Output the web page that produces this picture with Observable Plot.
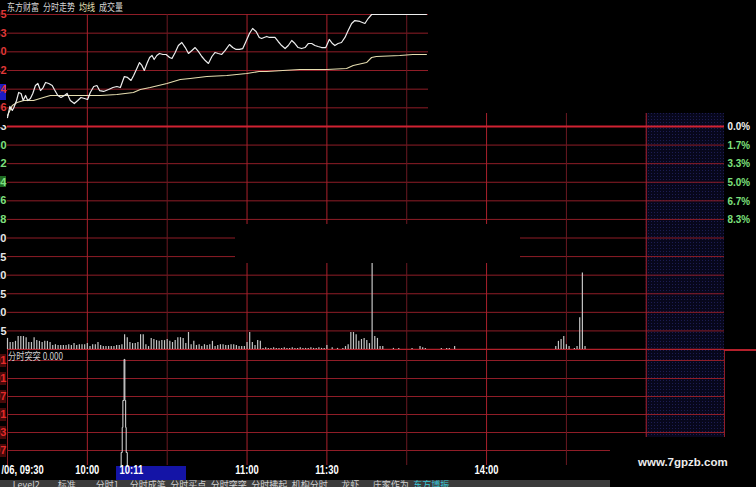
<!DOCTYPE html>
<html>
<head>
<meta charset="utf-8">
<script src="https://cdn.jsdelivr.net/npm/d3@7"></script>
<script src="https://cdn.jsdelivr.net/npm/@observablehq/plot@0.6"></script>
<style>
  html, body { margin:0; padding:0; background:#000; }
  #root { position:relative; width:756px; height:487px; background:#000; overflow:hidden; font-family:"Liberation Sans", Arial, sans-serif; }
  .abs { position:absolute; }
  .abs svg { display:block; max-width:none; }
  .cjk { font-family:"Noto Sans CJK SC", sans-serif; white-space:nowrap; }
</style>
</head>
<body>
<div id="root"></div>
<script>
// ================= DATA =================
const chartEndMinute = 269.4;          // time axis keeps blank space after the close
const closeMinute = 240;               // 15:00 (240 trading minutes after 09:30)
const majorGridMinutes = [30, 90, 120, 180, 240];
const minorGridMinutes = [60, 150, 210];
const insetMajorMinutes = [30, 90, 120];
const insetMinorMinutes = [60, 150];
const timeTickMinutes = [30, 90, 120, 180];
const timeTickLabels = ["10:00", "11:00", "11:30", "14:00"];
const firstTimeLabel = "/06, 09:30";
const cursorMinute = 41;
const cursorLabel = "10:11";

// main panel (percent grid)
const pctGrid = [0, 1.667, 3.333, 5, 6.667, 8.333, 10, 11.667, 13.333, 15, 16.667, 18.333, 20];
const pctRightTicks = [0, 1.667, 3.333, 5, 6.667, 8.333];
const pctLeftLabels = ["10.43", "10.30", "10.12", "9.94", "9.76", "9.58"];

// volume (per minute from 09:30)
const volumeTicks = [30, 25, 20, 15, 10, 5];
const volume = [
  3.0,1.9,1.9,2.2,3.5,3.5,3.5,3.2,1.9,1.9,
  3.2,2.4,2.2,1.9,2.2,2.2,1.9,1.1,1.3,1.1,
  1.1,1.1,1.1,1.3,1.1,1.6,1.1,1.3,1.3,1.3,
  1.6,0.8,1.3,1.3,1.9,1.1,0.8,0.8,0.8,0.8,
  0.8,1.1,1.1,1.3,4.0,3.2,1.9,1.6,1.6,1.9,
  4.0,4.0,1.3,0.8,3.0,2.7,2.4,2.2,2.4,2.4,
  2.7,2.2,1.9,2.4,3.2,3.2,3.0,1.6,4.6,1.3,
  2.2,1.1,1.3,0.8,1.3,1.1,1.3,2.2,0.8,1.1,
  1.3,1.3,1.1,1.1,1.3,1.3,1.1,0.8,0.8,0.8,
  1.9,4.6,1.9,1.1,2.4,2.2,
  0.3,0.5,0.3,0.3,0.5,0.3,0.3,0.3,0.5,0.3,0.3,0.5,0.3,0.3,0.5,0.3,0.3,0.3,0.5,0.3,0.3,0.5,0.3,0.3,
  1.1,0,0.5,0,0.3,0,0.3,0.8,1.3,4.6,
  4.6,4.0,2.2,2.7,3.0,2.4,1.6,26.1,3.5,3.0,
  0.8,0.8,0,0,0,0.3,0,0.3,0,0,
  0,0,0.3,0,0,0.8,0.5,0.3,0,0,
  0,0,0,0.3,0,0.3,0.3,0,0.8,0,
  0,0,0,0,0,0,0,0,0,0,
  0,0,0,0,0,0,0,0,0,0,
  0,0,0,0,0,0,0,0,0,0,
  0,0,0,0,0,0,0.8,2.2,2.7,3.5,
  1.3,0.8,0,0.3,0.8,8.6,20.7,0.8
];

// inset (price % change and average line)
const insetGrid = [1.667, 3.333, 5, 6.667, 8.333, 10];
const insetLabelValues = [10, 8.333, 6.667, 5, 3.333, 1.667];
const insetTickLabels = ["10.95", "10.83", "10.60", "10.42", "10.24", "10.06"];
const priceSeries = [
  [0,0.80],[0.4,1.25],[0.9,1.79],[1.8,1.43],[2.4,1.70],[3.4,2.32],[4.2,3.04],[5.1,2.95],[5.9,2.32],[6.8,2.77],
  [7.6,2.32],[8.6,2.50],[9.5,2.95],[10.5,3.66],[11.4,3.84],[12.4,3.21],[13.4,3.48],[14.3,3.93],[15.5,3.84],[16.8,3.66],
  [17.6,3.30],[18.9,2.77],[20.1,2.59],[21.4,2.77],[22.4,2.95],[23.6,2.32],[25.1,2.05],[26.4,2.32],[27.6,2.59],[28.9,2.50],
  [30.1,2.41],[31.1,3.04],[32.4,3.57],[33.6,3.66],[34.6,3.21],[36.1,3.13],[38.0,3.30],[39.6,3.48],[41.1,3.57],[42.4,3.48],
  [43.9,4.46],[45.1,4.38],[46.4,4.11],[47.4,4.55],[48.6,5.18],[49.6,5.71],[50.5,5.45],[51.4,5.00],[52.4,5.63],[53.4,6.16],
  [54.3,6.34],[55.1,5.98],[56.1,6.34],[57.1,6.52],[58.4,6.43],[59.6,6.43],[60.9,6.16],[61.8,6.07],[63.0,6.61],[64.2,7.23],
  [65.5,7.50],[66.8,7.05],[68.0,6.52],[69.3,6.79],[70.5,7.05],[71.7,6.70],[73.0,6.25],[74.3,5.89],[75.5,5.63],[76.8,6.25],
  [78.0,6.61],[79.2,6.52],[80.5,6.43],[81.8,6.79],[83.4,7.32],[84.6,7.05],[85.9,6.88],[87.1,6.88],[88.4,6.96],[89.6,7.59],
  [90.9,8.30],[92.1,8.75],[93.4,8.48],[94.6,7.95],[95.5,7.86],[96.4,7.95],[97.4,8.04],[98.4,7.95],[99.3,7.95],[100.5,7.95],
  [101.7,7.59],[103.0,7.23],[104.3,6.96],[105.5,7.23],[106.8,7.68],[108.0,7.41],[109.2,7.05],[110.5,6.96],[111.8,7.05],[113.0,7.41],
  [114.3,7.41],[115.5,7.23],[116.7,7.14],[118.0,7.05],[119.6,7.05],[120.9,7.77],[122.1,7.41],[123.0,7.23],[124.2,7.41],[125.5,7.50],
  [126.8,7.95],[128.0,8.57],[129.3,9.20],[130.5,9.46],[132.4,9.38],[134.3,9.20],[135.5,9.64],[136.8,10.00],[157.4,10.00]
];
const avgSeries = [
  [0,0.98],[1.8,1.88],[3.6,2.14],[6.1,2.32],[9.8,2.32],[13.5,2.59],[16.1,2.77],[22.4,2.77],[29.9,2.77],[34.9,2.77],
  [41.1,2.86],[47.3,3.04],[49.9,3.30],[53.6,3.48],[59.9,3.84],[64.9,4.20],[68.6,4.29],[74.9,4.46],[82.4,4.55],[89.9,4.73],
  [94.5,4.91],[97.4,4.91],[103.5,5.00],[109.9,5.09],[119.9,5.09],[127.4,5.18],[129.9,5.45],[134.9,5.71],[136.8,6.16],[138.6,6.25],
  [147.4,6.34],[152.3,6.43],[157.4,6.43]
];

// lower indicator panel (分时突突)
const lowerGrid = [1, 2, 3, 4, 5, 6];
const lowerTickLabels = ["0.97", "1.93", "3.01", "3.97", "5.01", "6.01"];
const spikeOutline = [
  [42.7,0.15],[42.7,0.89],[43.1,0.89],[43.1,2.28],[43.35,2.28],[43.35,3.78],[43.8,3.78],[43.8,6.06],
  [44.1,6.06],[44.1,3.78],[44.4,3.78],[44.4,2.28],[44.6,2.28],[44.6,0.89],[45.0,0.89],[45.0,0.15]
];

const insetTitleParts = ["东方财富", "分时走势", "均线", "成交量"];
const lowerTitle = "分时突突 0.000";
const toolbarTabs = ["Level2", "标准", "分时1", "分时成笔", "分时买点", "分时突突", "分时拂起", "机构分时", "龙虾", "庄家作为", "东方博振"];
const watermark = "www.7gpzb.com";

// ================= STYLE =================
const GRID = "#8f1d27", GRID_MAJOR = "#a9202c", GRID_MINOR = "#6a1922", ZERO = "#d02232", SEP = "#b3202b";
const HATCH = "#0b0b2c";
const GREEN = "#7ee07e";
const baseStyle = {background: "transparent", color: "#fff", fontFamily: "'Liberation Sans', Arial, sans-serif"};
const xOpt = {domain: [0, chartEndMinute], range: [7, 724], axis: null};
const lab = {fontSize: 11, fontWeight: "bold"};

const root = document.getElementById("root");
function layer(left, top, w, h, node, extra) {
  const d = document.createElement("div");
  d.className = "abs";
  Object.assign(d.style, {left: left + "px", top: top + "px", width: w + "px", height: h + "px"}, extra || {});
  if (node) d.appendChild(node);
  root.appendChild(d);
  return d;
}
function addDots(svg, id) {
  const ns = "http://www.w3.org/2000/svg";
  const defs = document.createElementNS(ns, "defs");
  defs.innerHTML = `<pattern id="${id}" width="3" height="3" patternUnits="userSpaceOnUse"><rect width="3" height="3" fill="#07071c"/><rect width="1" height="1" fill="#1c1c52"/></pattern>`;
  svg.insertBefore(defs, svg.firstChild);
  svg.querySelectorAll(`[fill="${HATCH}"]`).forEach(el => el.setAttribute("fill", `url(#${id})`));
}
// condense wide labels (skip right-aligned, edge-clipped left labels)
function condense(svg, factor) {
  svg.querySelectorAll("text").forEach(t => {
    if (t.closest('[text-anchor="end"]')) return;
    const w = t.getComputedTextLength();
    if (w > 0) { t.setAttribute("textLength", (w * factor).toFixed(1)); t.setAttribute("lengthAdjust", "spacingAndGlyphs"); }
  });
}

// ================= MAIN PANEL (percent grid) =================
const mainPlot = Plot.plot({
  width: 756, height: 237, marginTop: 0, marginBottom: 0, marginLeft: 7, marginRight: 32,
  style: baseStyle,
  x: xOpt,
  y: {domain: [0, 20], range: [13, 236], axis: null},
  marks: [
    Plot.rect([{from: closeMinute, to: chartEndMinute}], {x1: "from", x2: "to", fill: HATCH}),
    Plot.ruleY(pctGrid.slice(1, -1), {stroke: GRID}),
    Plot.ruleX(minorGridMinutes, {stroke: GRID_MINOR}),
    Plot.ruleX(majorGridMinutes, {stroke: GRID_MAJOR}),
    Plot.ruleY([0], {stroke: ZERO, strokeWidth: 2.2}),
    Plot.ruleY([20], {stroke: SEP, strokeWidth: 1.4}),
    Plot.text(pctRightTicks.slice(0, 1), {y: d => d, text: d => d.toFixed(1) + "%", frameAnchor: "right", textAnchor: "start", dx: 3, fill: "#f2f2f2", fontSize: 11.5, fontWeight: "bold"}),
    Plot.text(pctRightTicks.slice(1), {y: d => d, text: d => d.toFixed(1) + "%", frameAnchor: "right", textAnchor: "start", dx: 3, fill: GREEN, fontSize: 11.5, fontWeight: "bold"}),
    Plot.text(pctRightTicks.slice(0, 1), {y: d => d, text: (d, i) => pctLeftLabels[i], frameAnchor: "left", textAnchor: "end", dx: -1, fill: "#e6e6e6", ...lab}),
    Plot.text(pctRightTicks.slice(1), {y: d => d, text: (d, i) => pctLeftLabels[i + 1], frameAnchor: "left", textAnchor: "end", dx: -1, fill: GREEN, ...lab})
  ]
});
layer(0, 176, 6, 11, null, {background: "#1f6a22"});
layer(0, 113, 756, 237, mainPlot);
addDots(mainPlot, "dotsMain");
condense(mainPlot, 0.86);

// ================= VOLUME OVERLAY =================
const volData = volume.map((v, i) => ({minute: i, v})).filter(d => d.v > 0);
const volPlot = Plot.plot({
  width: 756, height: 237, marginTop: 0, marginBottom: 0, marginLeft: 7, marginRight: 32,
  style: baseStyle,
  x: xOpt,
  y: {domain: [0, 30], range: [236, 125], axis: null},
  marks: [
    Plot.ruleX(volData, {x: "minute", y1: 0, y2: "v", stroke: "#c4c4c4", strokeWidth: 1.2}),
    Plot.text(volumeTicks, {y: d => d, text: d => String(d), frameAnchor: "left", textAnchor: "end", dx: -1, fill: "#e6e6e6", ...lab})
  ]
});
layer(0, 113, 756, 237, volPlot);

// redaction block over the middle of the main panel
layer(235, 224, 285, 39, null, {background: "#000"});

// ================= INSET (price chart) =================
layer(0, 0, 428, 125, null, {background: "#000"});
layer(0, 84, 6, 16, null, {background: "#1c1cc4"});
const insetPlot = Plot.plot({
  width: 428, height: 125, marginTop: 14, marginBottom: 0, marginLeft: 7, marginRight: 0,
  style: baseStyle,
  x: xOpt,
  y: {domain: [0, 10], range: [126, 14], axis: null},
  marks: [
    Plot.ruleY(insetGrid, {stroke: GRID}),
    Plot.ruleX(insetMinorMinutes, {stroke: GRID_MINOR}),
    Plot.ruleX(insetMajorMinutes, {stroke: GRID_MAJOR}),
    Plot.line(avgSeries, {x: d => d[0], y: d => d[1], stroke: "#e6deb0", strokeWidth: 1.1}),
    Plot.line(priceSeries, {x: d => d[0], y: d => d[1], stroke: "#ededed", strokeWidth: 1.2}),
    Plot.text(insetLabelValues, {y: d => d, text: (d, i) => insetTickLabels[i], frameAnchor: "left", textAnchor: "end", dx: -1, fill: "#e03838", ...lab})
  ]
});
layer(0, 0, 428, 125, insetPlot);

const titleDiv = layer(7, 1, 160, 13, null, {});
titleDiv.className = "abs cjk";
titleDiv.innerHTML = `<div style="transform:scaleX(0.8);transform-origin:left top;font-size:10px;line-height:12px;color:#d4d4d4;">` +
  insetTitleParts.map((p, i) => `<span style="margin-right:5px;${i === 2 ? "color:#e8e2b8;" : ""}">${p}</span>`).join("") + `</div>`;

// ================= LOWER PANEL (indicator + time axis) =================
const lowerY = {domain: [0, 6], range: [118, 10]};
const lowerYScale = Plot.scale({y: lowerY});
const xScale = Plot.scale({x: {domain: xOpt.domain, range: xOpt.range}});

lowerGrid.forEach(v => layer(0, 350 + lowerYScale.apply(v) - 6.5, 6, 13, null, {background: "#4a0909"}));
layer(Math.round(xScale.apply(cursorMinute)), 466, 70, 14, null, {background: "#1414a6"});

const lowerPlot = Plot.plot({
  width: 756, height: 130, marginTop: 0, marginBottom: 15, marginLeft: 7, marginRight: 32,
  style: baseStyle,
  x: xOpt,
  y: {...lowerY, axis: null},
  marks: [
    Plot.rect([{from: closeMinute, to: chartEndMinute}], {x1: "from", x2: "to", fill: HATCH}),
    Plot.ruleY(lowerGrid, {stroke: GRID}),
    Plot.ruleX(minorGridMinutes, {stroke: GRID_MINOR}),
    Plot.ruleX(majorGridMinutes, {stroke: GRID_MAJOR}),
    Plot.ruleX([0, chartEndMinute], {stroke: GRID}),
    Plot.line(spikeOutline, {x: d => d[0], y: d => d[1], stroke: "#dedede", strokeWidth: 1}),
    Plot.text(lowerGrid, {y: d => d, text: (d, i) => lowerTickLabels[i], frameAnchor: "left", textAnchor: "end", dx: -1, fill: "#e22a2a", ...lab}),
    Plot.text(timeTickMinutes, {x: d => d, text: (d, i) => timeTickLabels[i], frameAnchor: "bottom", dy: 8, fill: "#ffffff", fontSize: 12.5, fontWeight: "bold"}),
    Plot.text([firstTimeLabel], {frameAnchor: "bottom-left", textAnchor: "start", dx: -6, dy: 8, fill: "#ffffff", fontSize: 12.5, fontWeight: "bold"}),
    Plot.text([cursorMinute], {x: d => d, text: () => cursorLabel, frameAnchor: "bottom", textAnchor: "start", dx: 3, dy: 8, fill: "#ffffff", fontSize: 12.5, fontWeight: "bold"})
  ]
});
layer(0, 350, 756, 130, lowerPlot);
addDots(lowerPlot, "dotsLower");
condense(lowerPlot, 0.75);

layer(724, 349, 32, 1.5, null, {background: SEP});

const lt = layer(8, 350, 120, 12, null, {});
lt.className = "abs cjk";
lt.innerHTML = `<div style="transform:scaleX(0.82);transform-origin:left top;font-size:10px;line-height:11px;color:#cfcfcf;">${lowerTitle}</div>`;

// ================= TOOLBAR =================
const tb = layer(0, 480, 610, 7, null, {background: "#3b3b3b", overflow: "hidden"});
tb.innerHTML = toolbarTabs.map((t, i) =>
  `<div class="cjk" style="position:absolute;left:${6 + i * 40.5}px;top:-1px;width:40.5px;text-align:center;font-size:9px;line-height:12px;color:${i === toolbarTabs.length - 1 ? "#3cc8d8" : "#cfcfcf"};">${t}</div>`
).join("");

// ================= WATERMARK =================
const wm = layer(610, 437, 146, 50, null, {background: "#000"});
wm.innerHTML = `<div style="position:absolute;left:28px;top:19px;font:bold 11.5px 'Liberation Sans',Arial,sans-serif;color:#ececec;white-space:nowrap;">${watermark}</div>`;
</script>
</body>
</html>
